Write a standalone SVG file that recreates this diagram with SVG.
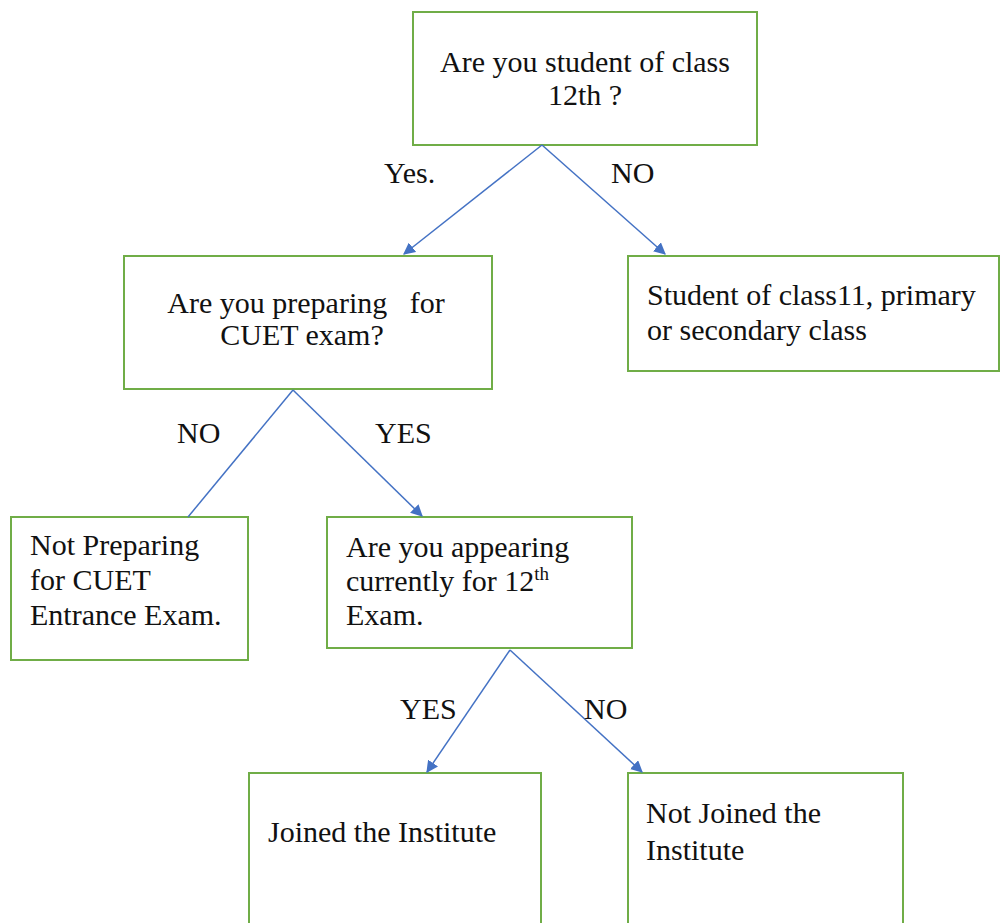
<svg xmlns="http://www.w3.org/2000/svg" width="1000" height="923" viewBox="0 0 1000 923">
<style>
.box{fill:#fff;stroke:#70ad47;stroke-width:2}
.t{font-size:30px;fill:#111}
.c{stroke:#4472c4;stroke-width:1.5;fill:none}
</style>
<defs>
<marker id="ah" viewBox="0 0 10 10" refX="9" refY="5" markerWidth="8" markerHeight="8" orient="auto" markerUnits="strokeWidth">
<path d="M0,0 L10,5 L0,10 z" fill="#4472c4"/>
</marker>
</defs>
<rect width="1000" height="923" fill="#fff"/>
<g font-family="Liberation Serif, Times New Roman, serif">
<g id="n1"><rect class="box" x="413" y="12" width="344" height="133"/>
<text class="t" x="585" y="72" text-anchor="middle">Are you student of class</text>
<text class="t" x="585" y="105" text-anchor="middle">12th ?</text></g>
<g id="n2"><rect class="box" x="124" y="256" width="368" height="133"/>
<text class="t" x="306" y="313" text-anchor="middle" xml:space="preserve">Are you preparing   for</text>
<text class="t" x="302" y="345" text-anchor="middle">CUET exam?</text></g>
<g id="n3"><rect class="box" x="628" y="256" width="371" height="115"/>
<text class="t" x="647" y="305">Student of class11, primary</text>
<text class="t" x="647" y="340">or secondary class</text></g>
<g id="n4"><rect class="box" x="11" y="517" width="237" height="143"/>
<text class="t" x="30" y="555">Not Preparing</text>
<text class="t" x="30" y="590">for CUET</text>
<text class="t" x="30" y="625">Entrance Exam.</text></g>
<g id="n5"><rect class="box" x="327" y="517" width="305" height="131"/>
<text class="t" x="346" y="557">Are you appearing</text>
<text class="t" x="346" y="591">currently for 12<tspan font-size="19" dy="-11">th</tspan></text>
<text class="t" x="346" y="625">Exam.</text></g>
<g id="n6"><rect class="box" x="249" y="773" width="292" height="160"/>
<text class="t" x="268" y="842">Joined the Institute</text></g>
<g id="n7"><rect class="box" x="628" y="773" width="275" height="160"/>
<text class="t" x="646" y="823">Not Joined the</text>
<text class="t" x="646" y="860">Institute</text></g>
<g id="connectors">
<line class="c" x1="542" y1="145" x2="404" y2="254" marker-end="url(#ah)"/>
<line class="c" x1="542" y1="145" x2="665" y2="254" marker-end="url(#ah)"/>
<line class="c" x1="293" y1="390" x2="188" y2="517"/>
<line class="c" x1="293" y1="390" x2="422" y2="516" marker-end="url(#ah)"/>
<line class="c" x1="510" y1="650" x2="427" y2="772" marker-end="url(#ah)"/>
<line class="c" x1="510" y1="650" x2="642" y2="772" marker-end="url(#ah)"/>
</g>
<g id="labels">
<text class="t" x="384" y="183">Yes.</text>
<text class="t" x="611" y="183">NO</text>
<text class="t" x="177" y="443">NO</text>
<text class="t" x="375" y="443">YES</text>
<text class="t" x="400" y="719">YES</text>
<text class="t" x="584" y="719">NO</text>
</g>
</g>
</svg>
